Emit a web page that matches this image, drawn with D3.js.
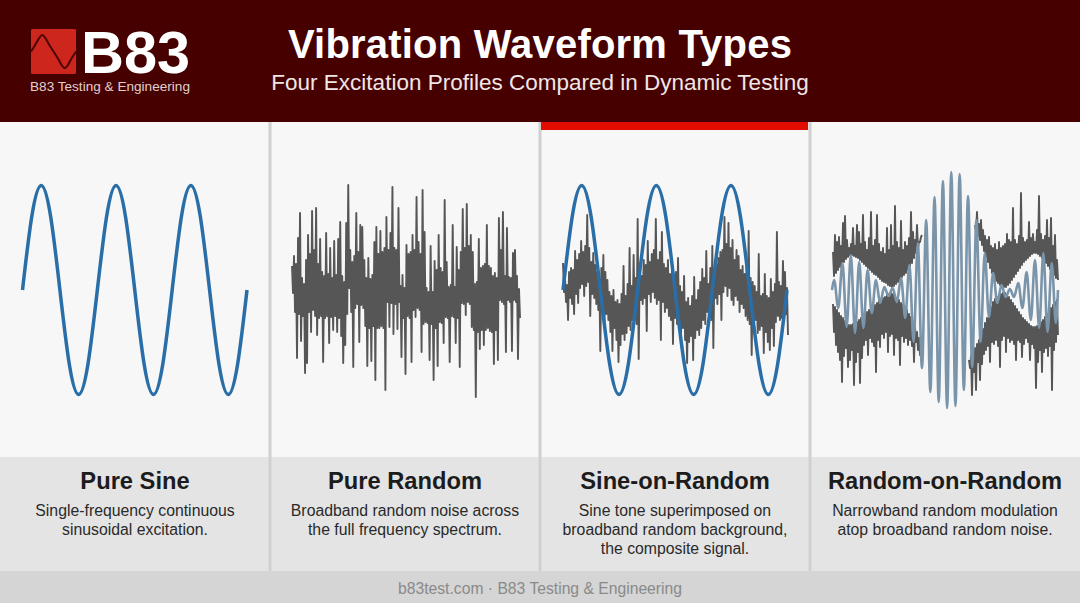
<!DOCTYPE html>
<html>
<head>
<meta charset="utf-8">
<title>Vibration Waveform Types</title>
<script src="https://cdn.jsdelivr.net/npm/d3@7"></script>
<style>
  html, body { margin: 0; padding: 0; background: #f7f7f7; }
  svg { display: block; }
  text { font-family: "Liberation Sans", Arial, sans-serif; }
  path.trace { filter: blur(0.35px); }
</style>
</head>
<body>
<div id="chart"></div>
<script>
// panel text
const panelTitles = ["Pure Sine", "Pure Random", "Sine-on-Random", "Random-on-Random"];
const panelLines = [
  ["Single-frequency continuous", "sinusoidal excitation."],
  ["Broadband random noise across", "the full frequency spectrum."],
  ["Sine tone superimposed on", "broadband random background,", "the composite signal."],
  ["Narrowband random modulation", "atop broadband random noise."]
];

// sine tone, one value per 1/8 cycle
const sineValues = [0, 74, 104.5, 74, 0, -74, -104.5, -74, 0, 74, 104.5, 74, 0, -74, -104.5, -74, 0, 74, 104.5, 74, 0, -74, -104.5, -74, 0];

// pure random, max and min per time bin
const randomMax = [24, 34, 26, 52, 77, 12, 6, 30, 55, 36, 79, 40, 82, 26, 51, 18, 14, 57, 16, 42, 12, 49, 15, 51, 68, 14, 8, 67, 105, 40, 28, 34, 77, 38, 65, 63, 30, 12, 32, 11, 15, 48, 63, 36, 59, 38, 42, 73, 40, 57, 103, 42, 40, 82, 4, 15, 2, 45, 36, 38, 55, 40, 93, 48, 36, 100, 58, 2, -2, 44, -2, 29, 20, 55, 22, 18, 90, 28, 3, 5, 65, 3, 43, 20, 38, 81, 42, 86, 44, 55, 38, 6, 8, 51, 22, 24, 26, 65, 24, 22, 14, 17, 12, 72, 40, 78, 14, 62, 13, 12, 37, 40, 14, 1];
const randomMin = [-3, -22, -68, -24, -51, -26, -83, -73, -22, -42, -20, -26, -45, -28, -26, -72, -28, -26, -53, -27, -40, -26, -42, -28, -46, -73, -55, -24, 2, -22, -77, -18, -14, -52, -15, -18, -36, -76, -38, -71, -36, -90, -38, -38, -36, -38, -100, -12, -37, -13, -44, -14, -39, -12, -67, -28, -84, -26, -28, -72, -20, -27, -18, -20, -62, -34, -32, -33, -70, -34, -90, -38, -76, -32, -33, -53, -27, -28, -72, -26, -27, -53, -28, -77, -13, -14, -25, -12, -14, -37, -40, -107, -42, -59, -40, -55, -40, -38, -41, -42, -74, -40, -70, -10, -12, -14, -62, -10, -12, -61, -10, -12, -69, -28];

// sine on random, gray trace
const sorMax = [27, 12, 5, 18, 22, 20, 39, 30, 36, 49, 38, 44, 75, 42, 28, 37, 25, 18, 10, 22, 35, 18, 10, -2, -6, 0, -12, -10, -14, -4, 24, -6, 6, 42, 4, 35, 12, 71, 20, 14, 30, 25, 49, 28, 36, 40, 71, 30, 38, 58, 26, 22, 30, 16, 20, 8, 18, 32, 4, -2, 14, -12, -8, -16, -6, 13, -10, 0, 8, 21, 12, 39, 6, 22, 44, 15, 26, 32, 38, 40, 73, 46, 67, 42, 50, 30, 40, 34, 20, 24, 16, 28, 59, 12, 8, 4, -2, 36, -6, -4, 16, -6, -8, 11, -2, 6, 58, 8, 4, 29, 18, 2];
const sorMin = [-2, -12, -30, -8, -14, -24, -4, -13, 2, 6, -6, 4, 8, -26, -4, -8, -14, -20, -61, -18, -36, -24, -30, -42, -61, -38, -50, -72, -55, -44, -50, -43, -36, -40, -30, -26, -34, -69, -10, -14, -8, -41, -4, -12, -2, -8, -14, -10, -50, -12, -22, -18, -26, -30, -54, -28, -34, -33, -44, -38, -50, -73, -52, -46, -70, -48, -40, -45, -38, -30, -34, -22, -26, -30, -58, -8, -14, -4, -30, -2, 4, -6, 2, -10, -15, -6, -10, -22, -14, -18, -26, -30, -34, -65, -36, -30, -43, -40, -36, -63, -42, -52, -60, -38, -56, -32, -26, -30, -28, -20, -24, -45];

// random on random, narrowband trace, peak values of each cycle
const carrierTop = [10, 27, 35, 28, 20, 10, 3, 2, 12, 25, 47, 70, 93, 109, 118, 116, 94, 70, 37, 17, 5, 1, 7, 18, 30, 37, 27];
const carrierBottom = [-18, -37, -43, -38, -23, -13, -6, -12, -28, -52, -78, -102, -112, -118, -116, -100, -77, -52, -27, -13, -7, -7, -18, -30, -38, -42, -33];

// random on random, broadband bands either side of the burst
const topLeft = [38, 55, 48, 53, 44, 67, 74, 50, 42, 46, 62, 44, 65, 58, 46, 75, 48, 40, 52, 78, 44, 50, 75, 46, 38, 42, 36, 62, 40, 65, 44, 84, 48, 42, 69, 40, 48, 44, 52, 78, 58, 50, 65, 48, 53];
const bottomLeft = [-42, -55, -62, -70, -92, -66, -58, -77, -70, -60, -95, -72, -62, -93, -68, -55, -50, -65, -48, -52, -56, -82, -50, -57, -44, -48, -42, -62, -46, -44, -65, -48, -50, -75, -46, -52, -48, -55, -50, -56, -72, -52, -60, -65, -58];
const lensLeft = [14, 17, 20, 23, 26, 28, 31, 33, 35, 35, 34, 33, 32, 30, 28, 26, 24, 22, 20, 18, 16, 15, 13, 11, 9, 8, 7, 5, 4, 3, 4, 6, 8, 10, 13, 15, 17, 20, 24, 27, 32, 37, 42, 48, 55];
const topRight = [65, 78, 66, 70, 60, 54, 50, 53, 44, 42, 46, 40, 48, 42, 44, 46, 56, 50, 48, 82, 50, 46, 54, 97, 52, 48, 50, 68, 52, 56, 48, 60, 94, 56, 50, 54, 70, 52, 72, 44, 55, 30];
const lensRight = [58, 54, 50, 45, 39, 33, 28, 22, 17, 12, 9, 7, 5, 4, 3, 3, 5, 7, 10, 13, 16, 19, 22, 25, 28, 30, 32, 34, 36, 37, 37, 36, 34, 32, 30, 27, 24, 21, 18, 15, 12, 10];
// the lower right band starts a little earlier than the upper one
const bottomRight = [-78, -105, -82, -100, -72, -90, -74, -64, -60, -56, -72, -52, -54, -50, -56, -77, -50, -46, -62, -48, -52, -50, -54, -70, -50, -52, -67, -54, -48, -52, -70, -54, -58, -98, -72, -60, -82, -62, -58, -66, -56, -100, -60, -52, -45];
const lensRightLow = [70, 66, 62, 58, 54, 50, 45, 39, 33, 28, 22, 17, 12, 9, 7, 5, 4, 3, 3, 5, 7, 10, 13, 16, 19, 22, 25, 28, 30, 32, 34, 36, 37, 37, 36, 34, 32, 30, 27, 24, 21, 18, 15, 12, 10];

// wave in the logo
const logoWave = [0, 0.55, 1, 0.55, 0, -0.55, -1, -0.55, 0];

const width = 1080, height = 603;
const blue = "#2a6ea8", gray = "#565656", slate = "#7a94aa";

const svg = d3.select("#chart").append("svg")
  .attr("width", width)
  .attr("height", height);

// backgrounds
svg.append("rect").attr("width", width).attr("height", height).attr("fill", "#f7f7f7");
svg.append("rect").attr("width", width).attr("height", 122).attr("fill", "#460000");
svg.append("rect").attr("y", 457).attr("width", width).attr("height", 114).attr("fill", "#e4e4e4");
svg.append("rect").attr("y", 571).attr("width", width).attr("height", 32).attr("fill", "#d5d5d5");

[270, 540, 810].forEach(x => {
  svg.append("rect").attr("x", x - 1.5).attr("y", 122).attr("width", 3).attr("height", 449).attr("fill", "#d0d0d0");
});
svg.append("rect").attr("x", 541).attr("y", 122).attr("width", 267).attr("height", 8).attr("fill", "#e20c00");

// same y scale everywhere
const y = d3.scaleLinear().domain([-120, 120]).range([410, 170]);

function drawLine(points, xScale, color, strokeWidth, curve) {
  const line = d3.line()
    .x(d => xScale(d[0]))
    .y(d => y(d[1]))
    .curve(curve || d3.curveLinear);
  svg.append("path")
    .attr("class", "trace")
    .attr("d", line(points))
    .attr("fill", "none")
    .attr("stroke", color)
    .attr("stroke-width", strokeWidth)
    .attr("stroke-linejoin", "round");
}

// go back and forth between the max and the min of each bin
function zigzag(hi, lo) {
  return hi.flatMap((v, i) => [[i, v], [i + 0.5, lo[i]]]);
}

const sinePoints = sineValues.map((v, i) => [i, v]);

// pure sine
drawLine(sinePoints, d3.scaleLinear().domain([0, 24]).range([22.5, 247]), blue, 3.5, d3.curveNatural);

// pure random
drawLine(zigzag(randomMax, randomMin), d3.scaleLinear().domain([0, 113]).range([292, 519]), gray, 1.9);

// sine on random
drawLine(zigzag(sorMax, sorMin), d3.scaleLinear().domain([0, 111]).range([563, 787]), gray, 1.9);
drawLine(sinePoints, d3.scaleLinear().domain([0, 24]).range([563, 787]), blue, 3.5, d3.curveNatural);

// random on random
const xLeft = d3.scaleLinear().domain([0, 44]).range([833, 921]);
const xRight = d3.scaleLinear().domain([0, 41]).range([975, 1057]);
const xRightLow = d3.scaleLinear().domain([0, 44]).range([969, 1057]);
drawLine(zigzag(topLeft, lensLeft), xLeft, gray, 1.9);
drawLine(zigzag(lensLeft.map(v => -v), bottomLeft), xLeft, gray, 1.9);
drawLine(zigzag(topRight, lensRight), xRight, gray, 1.9);
drawLine(zigzag(lensRightLow.map(v => -v), bottomRight), xRightLow, gray, 1.9);

const carrierPoints = [[0, 0]];
carrierTop.forEach((v, i) => {
  carrierPoints.push([i + 0.25, v]);
  carrierPoints.push([i + 0.75, carrierBottom[i]]);
});
carrierPoints.push([27, 0]);
drawLine(carrierPoints, d3.scaleLinear().domain([0, 27]).range([832, 1058]), slate, 2.6, d3.curveMonotoneX);

// captions
const captionX = [135, 405, 675, 945];
panelTitles.forEach((t, i) => {
  svg.append("text")
    .attr("x", captionX[i]).attr("y", 489)
    .attr("text-anchor", "middle")
    .attr("font-size", 23.7).attr("font-weight", "bold")
    .attr("fill", "#1c1c1c")
    .text(t);
  panelLines[i].forEach((s, j) => {
    svg.append("text")
      .attr("x", captionX[i]).attr("y", 515.5 + j * 19.3)
      .attr("text-anchor", "middle")
      .attr("font-size", 15.8)
      .attr("fill", "#2a2a2a")
      .text(s);
  });
});

// footer
svg.append("text")
  .attr("x", 540).attr("y", 593.5)
  .attr("text-anchor", "middle")
  .attr("font-size", 15.7)
  .attr("fill", "#8a8a8a")
  .text("b83test.com · B83 Testing & Engineering");

// header
svg.append("text")
  .attr("x", 540).attr("y", 58)
  .attr("text-anchor", "middle")
  .attr("font-size", 40).attr("font-weight", "bold")
  .attr("letter-spacing", 0.2)
  .attr("fill", "#ffffff")
  .text("Vibration Waveform Types");
svg.append("text")
  .attr("x", 540).attr("y", 90)
  .attr("text-anchor", "middle")
  .attr("font-size", 22.5)
  .attr("fill", "#efe6e6")
  .text("Four Excitation Profiles Compared in Dynamic Testing");

// logo
svg.append("rect")
  .attr("x", 31).attr("y", 29)
  .attr("width", 45).attr("height", 45)
  .attr("rx", 1.5)
  .attr("fill", "#cd261c");
const logoX = d3.scaleLinear().domain([0, 8]).range([31, 76]);
const logoY = d3.scaleLinear().domain([-1, 1]).range([68, 35]);
svg.append("path")
  .attr("d", d3.line().x((d, i) => logoX(i)).y(d => logoY(d)).curve(d3.curveNatural)(logoWave))
  .attr("fill", "none")
  .attr("stroke", "#4a0503")
  .attr("stroke-width", 2);
svg.append("text")
  .attr("x", 81).attr("y", 73)
  .attr("font-size", 59.5).attr("font-weight", "bold")
  .attr("fill", "#ffffff")
  .text("B83");
svg.append("text")
  .attr("x", 30).attr("y", 91)
  .attr("font-size", 13.6)
  .attr("fill", "#e0cfcf")
  .text("B83 Testing & Engineering");
</script>
</body>
</html>
